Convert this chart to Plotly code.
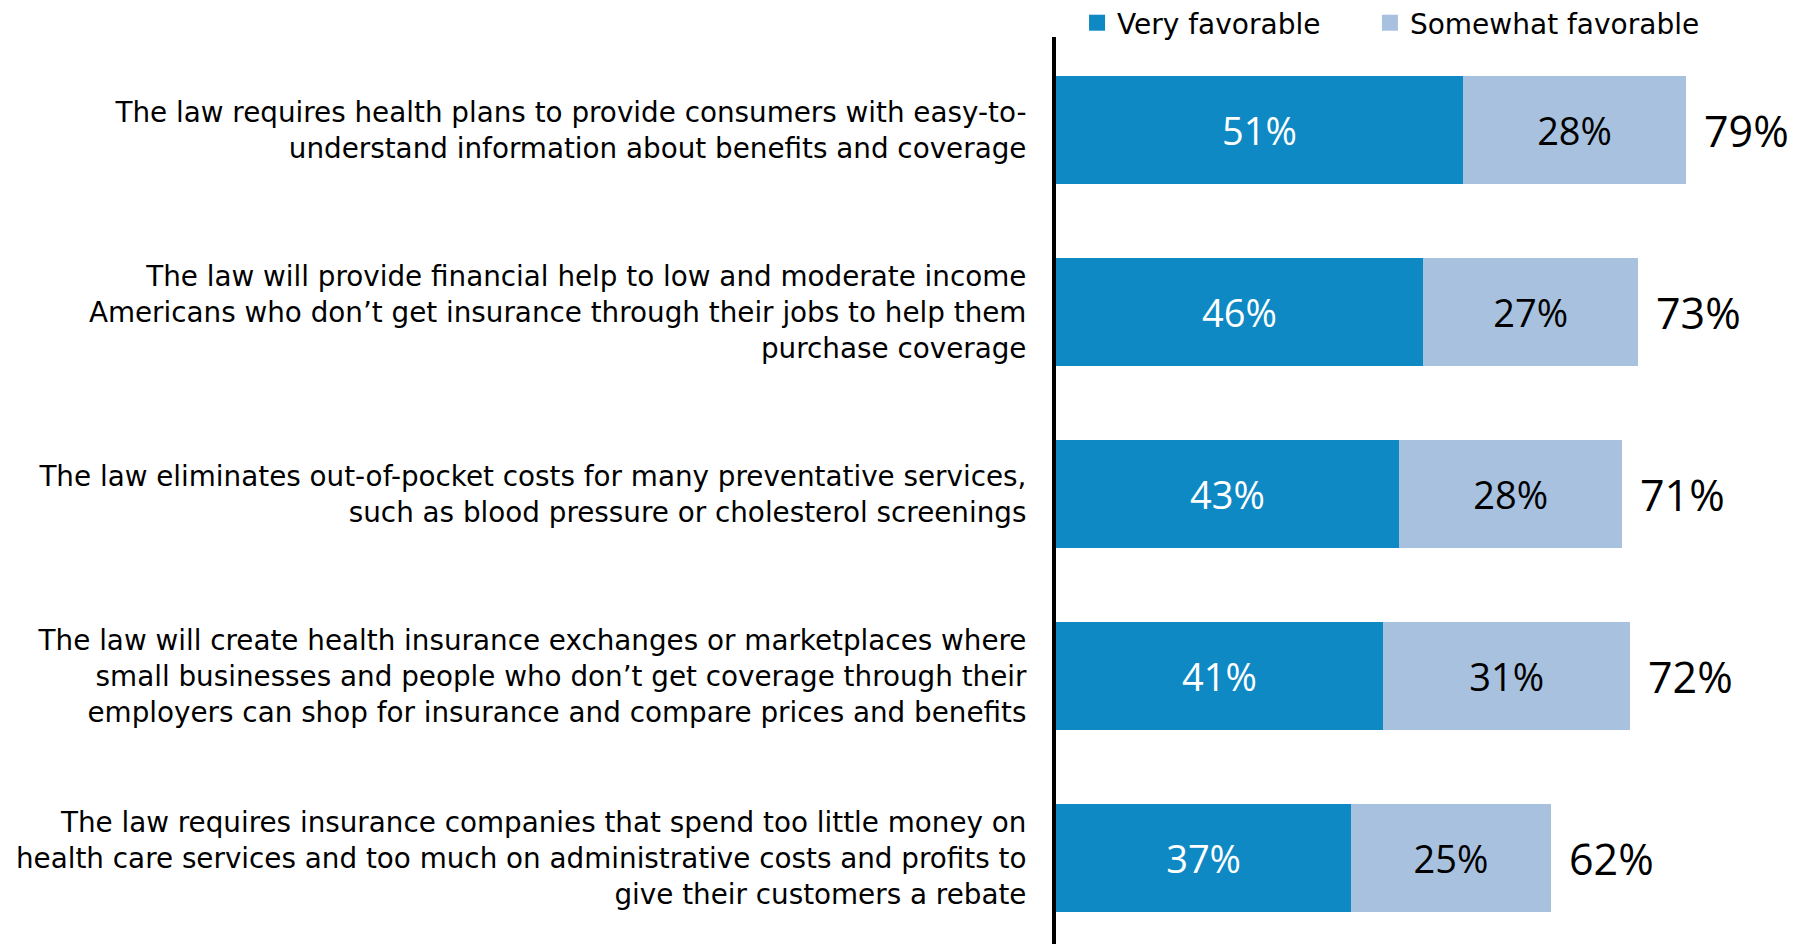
import plotly.graph_objects as go

categories = [
    "The law requires health plans to provide consumers with easy-to-<br>understand information about benefits and coverage",
    "The law will provide financial help to low and moderate income<br>Americans who don\u2019t get insurance through their jobs to help them<br>purchase coverage",
    "The law eliminates out-of-pocket costs for many preventative services,<br>such as blood pressure or cholesterol screenings",
    "The law will create health insurance exchanges or marketplaces where<br>small businesses and people who don\u2019t get coverage through their<br>employers can shop for insurance and compare prices and benefits",
    "The law requires insurance companies that spend too little money on<br>health care services and too much on administrative costs and profits to<br>give their customers a rebate",
]
very_favorable = [51, 46, 43, 41, 37]
somewhat_favorable = [28, 27, 28, 31, 25]
totals = [79, 73, 71, 72, 62]
series_names = ["Very favorable", "Somewhat favorable"]

DARK = "#0E89C4"
LIGHT = "#A7C1DF"
LABEL_FONT = "DejaVu Sans"
NUM_FONT = "Open Sans"

fig = go.Figure()
for name, vals, col, tcol in [
    (series_names[0], very_favorable, DARK, "white"),
    (series_names[1], somewhat_favorable, LIGHT, "black"),
]:
    fig.add_trace(go.Bar(
        y=categories, x=vals, orientation="h", name=name, showlegend=False,
        marker=dict(color=col, line=dict(width=0)),
        texttemplate="%{x}%", textposition="inside", insidetextanchor="middle",
        constraintext="none",
        textfont=dict(family=NUM_FONT, size=38, color=tcol),
        width=0.595,
    ))

# legend entries (square swatches)
legend_pad = ["\u00a0" * 5, ""]
for name, col, pad in zip(series_names, [DARK, LIGHT], legend_pad):
    fig.add_trace(go.Scatter(
        x=[None], y=[None], mode="markers", name=name + pad,
        marker=dict(symbol="square", size=17, color=col),
    ))

for cat, t in zip(categories, totals):
    fig.add_annotation(
        x=t, y=cat, text=f"{t}%", showarrow=False, xanchor="left", xshift=16,
        font=dict(family=NUM_FONT, size=43, color="black"),
    )

fig.update_layout(
    barmode="stack",
    width=1800, height=944,
    margin=dict(l=1048, r=0, t=29, b=0, autoexpand=False),
    plot_bgcolor="white", paper_bgcolor="white",
    showlegend=True,
    legend=dict(
        orientation="h", x=0.028, xanchor="left",
        y=1.0153, yanchor="middle",
        font=dict(family=LABEL_FONT, size=28, color="black"),
        bgcolor="rgba(0,0,0,0)", itemwidth=30, traceorder="normal",
        tracegroupgap=0,
    ),
)
fig.update_xaxes(range=[0, 94.26], visible=False, fixedrange=True, automargin=False)
fig.update_yaxes(
    range=[4.516, -0.511], showline=True, linecolor="black", linewidth=4,
    showgrid=False, zeroline=False, ticks="outside", ticklen=20, tickcolor="rgba(0,0,0,0)",
    tickfont=dict(family=LABEL_FONT, size=27.8, color="black"), automargin=False,
)

fig.write_html("out.html")
